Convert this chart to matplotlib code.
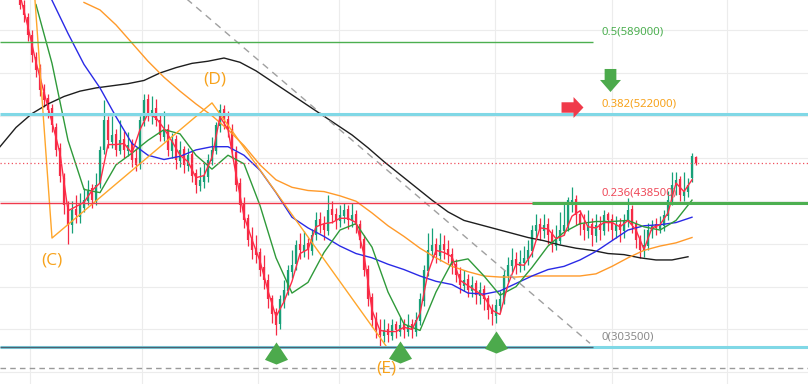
import numpy as np
import matplotlib
matplotlib.use("Agg")
import matplotlib.pyplot as plt
from matplotlib.path import Path

# ---------------- data (prices in thousands) ----------------
closes = [624,614,596,577,563,544,535,525,511,488,
          464,436,418,432,427,436,441,450,441,455,
          488,516,497,502,488,497,488,493,479,474,
          516,535,521,525,516,502,507,488,497,479,
          488,474,483,464,455,460,464,479,488,511,
          525,516,507,488,455,436,422,404,394,390,
          376,366,348,334,324,348,357,376,380,399,
          394,399,394,408,422,418,413,432,427,422,
          427,432,422,427,418,404,376,348,329,319,
          315,319,315,324,319,324,319,324,319,329,
          348,376,394,399,390,399,394,390,380,371,
          362,366,357,362,352,357,348,338,334,343,
          348,371,380,385,380,383,387,394,413,418,
          413,418,408,399,404,413,418,441,441,427,
          418,413,418,408,418,413,427,422,413,418,
          413,422,432,418,404,394,399,413,418,415,
          418,427,441,455,460,446,450,455,482,476]
opens = [630,624,612,596,575,565,542,537,527,509,
         490,462,434,418,433,425,434,440,452,440,
         456,488,516,495,503,487,498,487,494,480,
         474,515,536,520,527,516,500,508,487,498,
         478,489,473,484,466,454,458,463,478,487,
         510,526,517,508,486,457,437,424,405,396,
         392,378,366,349,336,325,346,356,374,381,
         400,393,401,393,408,423,419,412,433,428,
         421,426,433,421,428,419,405,377,350,330,
         320,314,320,314,325,318,325,318,325,318,
         328,347,375,393,400,389,400,395,391,381,
         372,361,367,356,363,351,358,349,339,333,
         342,347,370,379,386,379,382,386,393,412,
         419,412,419,409,398,403,412,417,438,442,
         428,419,412,419,407,419,412,428,423,412,
         419,412,421,433,419,405,393,398,412,419,
         414,417,426,440,456,461,445,449,462,481]
highs = [632,628,616,600,580,568,550,540,531,513,
         494,466,440,440,446,448,452,460,456,466,
         492,535,520,520,508,516,506,505,498,490,
         520,540,540,538,536,522,524,512,504,502,
         496,492,490,488,470,472,476,484,500,514,
         531,530,524,512,492,462,444,428,416,408,
         396,390,372,352,340,352,366,380,394,404,
         410,412,406,414,430,430,426,446,440,434,
         436,438,436,438,432,422,408,380,354,336,
         330,330,326,330,328,332,330,334,330,336,
         354,380,410,415,406,410,408,404,396,386,
         378,376,372,370,366,364,362,352,344,348,
         356,376,388,396,392,394,398,404,418,428,
         424,428,424,414,418,430,438,444,453,446,
         432,428,432,424,428,426,432,430,428,426,
         424,428,443,436,422,408,414,420,422,424,
         426,432,450,467,467,464,467,462,485,482]
lows = [620,608,590,570,556,538,528,518,505,482,
        458,428,400,410,420,420,430,436,434,436,
        452,484,490,490,482,484,480,482,472,468,
        470,510,515,512,510,496,496,482,480,470,
        472,466,468,458,448,450,452,458,474,484,
        505,508,500,480,450,430,415,398,386,382,
        370,358,340,326,315,320,340,352,368,376,
        386,388,386,390,404,410,404,408,420,414,
        416,420,414,416,410,396,370,342,322,312,
        304,308,308,310,312,314,312,314,312,314,
        324,342,370,388,382,384,386,382,372,364,
        354,356,350,350,344,344,338,330,324,326,
        336,344,364,374,372,374,376,380,388,404,
        404,406,400,392,394,400,408,412,430,418,
        408,404,406,398,402,404,408,412,404,406,
        402,406,416,410,396,387,388,394,406,408,
        410,412,422,436,446,440,440,444,458,474]

# moving averages (value every `step` bars starting at `start`)
ma_red = [633,603,570,542,514,485,431,435,439,450,
          457,493,493,494,485,507,522,518,508,496,
          483,477,462,464,481,519,507,465,426,404,
          384,356,332,346,365,391,395,416,419,420,
          424,424,420,390,338,319,318,318,322,320,
          335,373,394,392,388,366,361,356,351,338,
          334,362,381,380,391,415,414,405,408,426,
          431,416,415,420,420,416,422,413,395,415,
          418,429,457,449,460]
ma_red_start, ma_red_step = 0, 2
ma_green = [624,569,497,451,448,474,485,497,507,503,
            483,470,483,475,436,387,354,364,392,413,
            419,397,355,325,319,355,383,386,370,352,
            360,378,398,411,419,421,421,422,416,413,
            422,441]
ma_green_start, ma_green_step = 4, 4
ma_blue = [628,597,568,546,519,494,483,479,482,488,
           491,491,483,469,448,425,415,407,398,391,
           387,381,376,370,365,362,354,353,356,363,
           370,376,379,385,393,403,413,417,418,420,
           425]
ma_blue_start, ma_blue_step = 8, 4
ma_orange = [626,619,605,588,571,556,543,531,520,507,
             492,474,460,453,450,449,445,440,429,417,
             407,396,387,379,374,370,369,369,370,370,
             370,370,372,379,387,394,398,401,406]
ma_orange_start, ma_orange_step = 16, 4
ma_black = [491,509,522,531,538,543,546,548,550,553,
            560,565,569,571,574,570,562,552,542,532,
            522,512,502,490,477,465,453,441,430,422,
            418,414,410,406,403,399,396,394,391,390,
            387,385,385,388]
ma_black_start, ma_black_step = -5, 4

# Fibonacci levels
fib_ratios = ["0", "0.236", "0.382", "0.5"]
fib_prices = [303.5, 438.5, 522.0, 589.0]

# wave points (C), (D), (E)
wave_idx = [3.5, 8, 48, 91.7]
wave_price = [641, 405.5, 532.0, 303.5]
wave_labels = ["(C)", "(D)", "(E)"]

trend_idx = [38, 142.5]
trend_price = [641, 307]

current_price = 476
lower_dash_price = 283.9

buy_idx = [64, 95, 119]
buy_price = [298, 299, 308]

# ---------------- figure ----------------
W, H = 808, 384
fig = plt.figure(figsize=(W / 100, H / 100), dpi=100)
ax = fig.add_axes([0, 0, 1, 1])
ax.set_xlim(-5, 197)
ax.set_ylim(268.9, 628.3)
for s in ax.spines.values():
    s.set_visible(False)
ax.set_yticks([280, 320, 360, 400, 440, 480, 520, 560, 600])
ax.set_xticks([2.5, 30.5, 59.5, 79.75, 118.75, 148, 176.75])
ax.tick_params(length=0, labelleft=False, labelbottom=False)
ax.grid(True, color="#ececec", lw=0.8, zorder=0)
ax.set_axisbelow(True)

CR = "#f52a45"
CG = "#17a078"
n = len(closes)
xi = np.arange(n)
o = np.array(opens, float); c = np.array(closes, float)
colors = [CG if c[i] >= o[i] else CR for i in range(n)]
ax.vlines(xi, lows, highs, colors=colors, lw=0.9, zorder=2)
ax.vlines(xi, np.minimum(o, c), np.maximum(o, c), colors=colors, lw=1.6, zorder=2)

def ma_x(start, step, vals):
    return start + step * np.arange(len(vals))

ax.plot(ma_x(ma_black_start, ma_black_step, ma_black), ma_black, color="#1e1e1e", lw=1.0, zorder=3)
ax.plot(ma_x(ma_orange_start, ma_orange_step, ma_orange), ma_orange, color="#ff9a2a", lw=1.0, zorder=3)
ax.plot(ma_x(ma_blue_start, ma_blue_step, ma_blue), ma_blue, color="#2a2ae6", lw=1.0, zorder=3)
ax.plot(ma_x(ma_green_start, ma_green_step, ma_green), ma_green, color="#2f9a3a", lw=1.0, zorder=3)
ax.plot(ma_x(ma_red_start, ma_red_step, ma_red), ma_red, color="#ff2b47", lw=1.0, zorder=3)

# wave zigzag
ax.plot(wave_idx, wave_price, color="#ffa62b", lw=1.0, zorder=3)
# trend dashed
ax.plot(trend_idx, trend_price, color="#a0a0a0", lw=1.0, ls=(0, (5, 4)), zorder=3)

# fib lines
fib_end = 143.25
xl = ax.get_xlim()
ax.hlines(fib_prices[3], xl[0], fib_end, color="#4caf50", lw=1.0, zorder=4)
ax.hlines(fib_prices[2], xl[0], xl[1], color="#80d8e6", lw=2.2, zorder=4)
ax.hlines(fib_prices[1], xl[0], fib_end, color="#ef3a4c", lw=1.0, zorder=4)
ax.hlines(fib_prices[1], 128, xl[1], color="#4caf50", lw=2.2, zorder=4)
ax.hlines(fib_prices[0], xl[0], xl[1], color="#80d8e6", lw=2.2, zorder=4)
ax.hlines(fib_prices[0], xl[0], fib_end, color="#4f6070", lw=1.0, zorder=4)

ax.hlines(current_price, xl[0], xl[1], color="#f0505f", lw=0.9, ls=(0, (1, 2)), zorder=4)
ax.hlines(lower_dash_price, xl[0], xl[1], color="#9a9a9a", lw=1.0, ls=(0, (4, 3)), zorder=4)

fib_colors = ["#8a8a8a", "#ef4a5a", "#f7a21b", "#4caf50"]
for r, p, col in zip(fib_ratios, fib_prices, fib_colors):
    ax.annotate(f"{r}({p*1000:.0f})", (145.5, p), xytext=(0, 10), textcoords="offset pixels",
                ha="left", va="center", fontsize=8.2, color=col, family="Noto Sans", zorder=6)

# wave labels
lab_off = [(0, -22), (3, 23), (0, -21)]
for k, lab in enumerate(wave_labels):
    ax.annotate(lab, (wave_idx[k + 1], wave_price[k + 1]), xytext=lab_off[k], textcoords="offset pixels",
                ha="center", va="center", fontsize=12.5, color="#f7a21b", family="Open Sans",
                fontweight="medium", zorder=6)

# markers
kite = Path([(0, 0.96), (1, -0.55), (0, -0.96), (-1, -0.55), (0, 0.96)],
            [Path.MOVETO, Path.LINETO, Path.LINETO, Path.LINETO, Path.CLOSEPOLY])
ax.plot(buy_idx, buy_price, ls="none", marker=kite, ms=16.6, color="#4caa4c", mec="none", zorder=7)

down = Path([(-0.56, 1.1), (0.56, 1.1), (0.56, 0.05), (1, 0.05), (0, -1.1), (-1, 0.05), (-0.56, 0.05), (-0.56, 1.1)],
            [Path.MOVETO] + [Path.LINETO] * 6 + [Path.CLOSEPOLY])
ax.plot([147.4], [553], ls="none", marker=down, ms=16.6, color="#4caa4c", mec="none", zorder=7)
right = Path([(-1.05, 0.5), (0.1, 0.5), (0.1, 1), (1.05, 0), (0.1, -1), (0.1, -0.5), (-1.05, -0.5), (-1.05, 0.5)],
             [Path.MOVETO] + [Path.LINETO] * 6 + [Path.CLOSEPOLY])
ax.plot([138], [527.7], ls="none", marker=right, ms=15.8, color="#f03a4a", mec="none", zorder=7)

fig.savefig("out.png", dpi=100)
